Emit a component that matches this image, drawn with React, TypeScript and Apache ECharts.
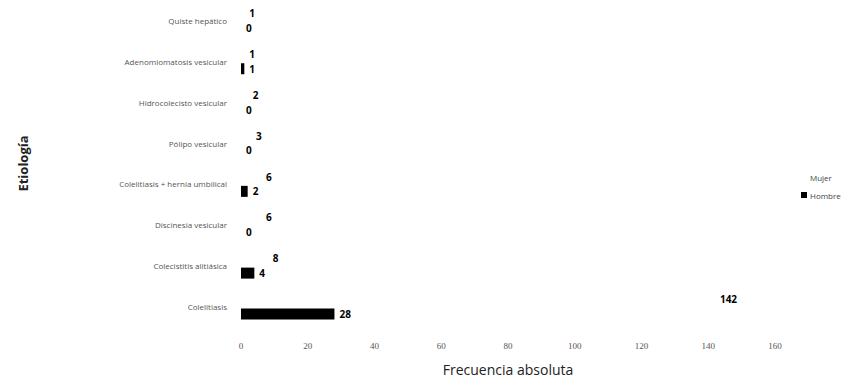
import React, { useEffect, useRef } from "react";
import * as echarts from "echarts";

const categories = [
  "Colelitiasis",
  "Colecistitis alitiásica",
  "Discinesia vesicular",
  "Colelitiasis + hernia umbilical",
  "Pólipo vesicular",
  "Hidrocolecisto vesicular",
  "Adenomiomatosis vesicular",
  "Quiste hepático",
];
const hombre = [28, 4, 0, 2, 0, 0, 1, 0];
const mujer = [142, 8, 6, 6, 3, 2, 1, 1];

export default function App() {
  const ref = useRef<HTMLDivElement>(null);
  useEffect(() => {
    if (!ref.current) return;
    const chart = echarts.init(ref.current, null, { renderer: "svg" });
    const labelStyle = {
      show: true,
      position: "right" as const,
      distance: 5,
      color: "#000",
      fontWeight: "bold" as const,
      fontSize: 10,
      fontFamily: "Open Sans, sans-serif",
    };
    chart.setOption({
      animation: false,
      grid: { left: 215, right: 79, top: 0, bottom: 48, containLabel: false },
      legend: {
        orient: "vertical",
        left: 788,
        top: 168,
        itemWidth: 6,
        itemHeight: 6,
        itemGap: 10,
        icon: "rect",
        data: ["Mujer", "Hombre"],
        textStyle: { fontSize: 8, color: "#444", fontFamily: "Open Sans, sans-serif", padding: [0, 0, 0, -2] },
      },
      xAxis: {
        type: "value",
        min: 0,
        max: 160,
        interval: 20,
        name: "Frecuencia absoluta",
        nameLocation: "middle",
        nameGap: 35,
        nameTextStyle: { fontSize: 14, color: "#222", fontFamily: "Open Sans, sans-serif" },
        axisLine: { show: false },
        axisTick: { show: false },
        splitLine: { show: false },
        axisLabel: { fontSize: 9, color: "#555", fontFamily: "Liberation Serif, serif", margin: 14 },
      },
      yAxis: {
        type: "category",
        data: categories,
        name: "Etiología",
        nameLocation: "middle",
        nameGap: 212,
        nameRotate: 90,
        nameTextStyle: { fontSize: 13, fontWeight: "bold", color: "#222", fontFamily: "Open Sans, sans-serif" },
        axisLine: { show: false },
        axisTick: { show: false },
        splitLine: { show: false },
        axisLabel: { fontSize: 8, color: "#555", fontFamily: "Open Sans, sans-serif", margin: 14 },
      },
      series: [
        {
          name: "Mujer",
          type: "bar",
          data: mujer,
          barWidth: 11,
          barGap: "35%",
          itemStyle: { color: "#ffffff" },
          label: labelStyle,
        },
        {
          name: "Hombre",
          type: "bar",
          data: hombre,
          barWidth: 11,
          barGap: "35%",
          itemStyle: { color: "#000" },
          label: labelStyle,
        },
      ],
    });
    return () => chart.dispose();
  }, []);
  return <div ref={ref} style={{ width: 846, height: 381, marginTop: -8 }} />;
}
